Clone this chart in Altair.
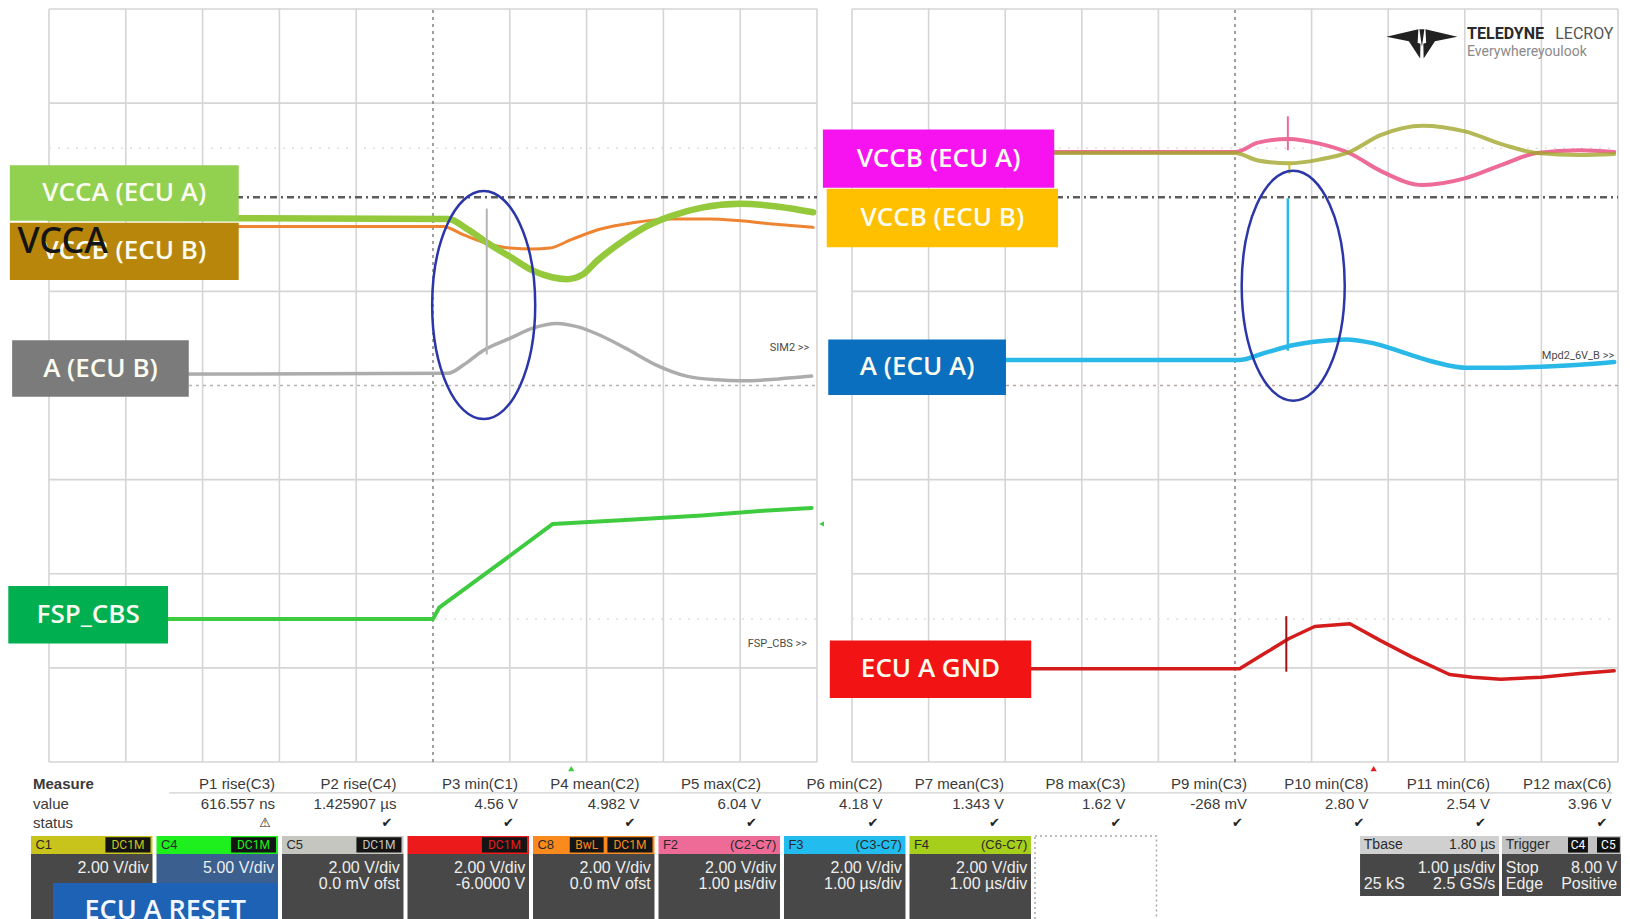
import altair as alt
import pandas as pd

# ================= values =================
# time: microseconds from trigger (1.00 us/div, 10 div); level: screen divisions (8 div)
grid_t = [-5, -4, -3, -2, -1, 1, 2, 3, 4, 5]
grid_v = [-4, -3, -2, -1, 1, 3, 4]

# ---- left screen ----
vcca_a_t = [-5.0, 0.2, 0.45, 0.7, 1.0, 1.3, 1.55, 1.74, 1.95, 2.13, 2.5, 2.8, 3.1, 3.5, 4.0, 4.5, 4.95]
vcca_a_v = [1.78, 1.77, 1.66, 1.52, 1.37, 1.22, 1.15, 1.13, 1.18, 1.32, 1.55, 1.70, 1.80, 1.89, 1.93, 1.90, 1.84]
vccb_b_t = [-5.0, 0.13, 0.4, 0.7, 1.0, 1.3, 1.52, 1.8, 2.17, 2.6, 3.1, 3.6, 4.0, 4.5, 4.95]
vccb_b_v = [1.69, 1.69, 1.60, 1.51, 1.46, 1.45, 1.46, 1.55, 1.66, 1.73, 1.77, 1.77, 1.75, 1.71, 1.68]
a_b_t = [-5.0, 0.2, 0.4, 0.65, 1.0, 1.3, 1.61, 1.9, 2.13, 2.5, 2.9, 3.3, 3.7, 4.0, 4.5, 4.93]
a_b_v = [0.12, 0.13, 0.22, 0.37, 0.50, 0.61, 0.66, 0.62, 0.55, 0.40, 0.22, 0.10, 0.06, 0.05, 0.07, 0.10]
fsp_t = [-5.0, 0.0, 0.08, 0.8, 1.56, 2.5, 3.5, 4.3, 4.93]
fsp_v = [-2.48, -2.48, -2.36, -1.93, -1.47, -1.43, -1.38, -1.33, -1.30]
left_spike_t = [0.70]
left_spike_lo = [0.33]
left_spike_hi = [1.88]

# ---- right screen ----
vccb_a_t = [-5.0, 0.0, 0.3, 0.7, 1.1, 1.49, 1.9, 2.45, 3.0, 3.5, 3.94, 4.5, 4.95]
vccb_a_v = [2.48, 2.48, 2.58, 2.62, 2.57, 2.47, 2.28, 2.13, 2.20, 2.35, 2.47, 2.50, 2.48]
f4_t = [-5.0, 0.0, 0.3, 0.7, 1.1, 1.49, 1.9, 2.45, 3.0, 3.5, 3.94, 4.5, 4.95]
f4_v = [2.47, 2.47, 2.39, 2.36, 2.40, 2.48, 2.66, 2.76, 2.70, 2.56, 2.47, 2.45, 2.46]
a_a_t = [-5.0, 0.05, 0.4, 0.77, 1.1, 1.45, 1.8, 2.2, 2.6, 3.0, 3.5, 4.0, 4.5, 4.95]
a_a_v = [0.27, 0.27, 0.35, 0.43, 0.47, 0.49, 0.45, 0.35, 0.25, 0.19, 0.19, 0.20, 0.22, 0.25]
gnd_t = [-5.0, 0.06, 0.4, 0.7, 1.04, 1.5, 1.9, 2.3, 2.8, 3.1, 3.47, 4.0, 4.5, 4.95]
gnd_v = [-3.01, -3.01, -2.84, -2.69, -2.56, -2.53, -2.71, -2.88, -3.07, -3.10, -3.12, -3.10, -3.06, -3.03]
right_spike_name = ["A (ECU A)", "VCCB (ECU A)", "F4", "ECU A GND"]
right_spike_t = [0.69, 0.69, 0.71, 0.67]
right_spike_lo = [0.37, 2.50, 2.25, -3.04]
right_spike_hi = [1.99, 2.86, 2.38, -2.45]

# trace labels
left_labels = ["VCCA (ECU A)", "VCCB (ECU B)", "A (ECU B)", "FSP_CBS"]
right_labels = ["VCCB (ECU A)", "VCCB (ECU B)", "A (ECU A)", "ECU A GND"]
left_tags = ["SIM2 >>", "FSP_CBS >>"]
right_tags = ["Mpd2_6V_B >>"]

# measurement table
meas_rows = ["Measure", "value", "status"]
meas_names = ["P1 rise(C3)", "P2 rise(C4)", "P3 min(C1)", "P4 mean(C2)", "P5 max(C2)", "P6 min(C2)",
              "P7 mean(C3)", "P8 max(C3)", "P9 min(C3)", "P10 min(C8)", "P11 min(C6)", "P12 max(C6)"]
meas_values = ["616.557 ns", "1.425907 µs", "4.56 V", "4.982 V", "6.04 V", "4.18 V",
               "1.343 V", "1.62 V", "-268 mV", "2.80 V", "2.54 V", "3.96 V"]
meas_status = ["⚠", "✔", "✔", "✔", "✔", "✔", "✔", "✔", "✔", "✔", "✔", "✔"]

# channel descriptors
ch_names = ["C1", "C4", "C5", "C7", "C8", "F2", "F3", "F4"]
ch_source = ["DC1M", "DC1M", "DC1M", "DC1M", "DC1M", "(C2-C7)", "(C3-C7)", "(C6-C7)"]
ch_scale = ["2.00 V/div", "5.00 V/div", "2.00 V/div", "2.00 V/div", "2.00 V/div",
            "2.00 V/div", "2.00 V/div", "2.00 V/div"]
ch_offset = ["", "", "0.0 mV ofst", "-6.0000 V", "0.0 mV ofst", "1.00 µs/div", "1.00 µs/div", "1.00 µs/div"]
tb_title = ["Tbase", "Trigger"]
tb_head = ["1.80 µs", ""]
tb_l1_left = ["", "Stop"]
tb_l1_right = ["1.00 µs/div", "8.00 V"]
tb_l2_left = ["25 kS", "Edge"]
tb_l2_right = ["2.5 GS/s", "Positive"]
trig_src = ["C4", "C5"]

# ================= styles & layout =================
FT = "Liberation Sans, Arial, Helvetica, sans-serif"
FN = "Liberation Sans Narrow, Arial Narrow, Roboto, sans-serif"
FL = "Open Sans, Noto Sans, sans-serif"

left_label_fill = ["#92d050", "#b8860b", "#7b7b7b", "#00b050"]
left_label_box = [(-5.51, -2.53, 1.75, 2.34), (-5.51, -2.53, 1.12, 1.73),
                  (-5.48, -3.18, -0.12, 0.48), (-5.53, -3.45, -2.74, -2.13)]
right_label_fill = ["#f712f0", "#ffc000", "#0a6fbf", "#f21414"]
right_label_box = [(-5.38, -2.36, 2.10, 2.72), (-5.33, -2.31, 1.47, 2.09),
                   (-5.31, -2.99, -0.10, 0.49), (-5.29, -2.66, -3.32, -2.71)]

W, H = 1568, 917
# one plot area holds both screens and the status strip; each gets its own scales
XL = alt.Scale(domain=[-5, 15.4167], nice=False, zero=False)      # left screen time
XR = alt.Scale(domain=[-15.483, 4.987], nice=False, zero=False)   # right screen time
YS = alt.Scale(domain=[-5.742, 4], nice=False, zero=False)        # screen divisions
TXS = alt.Scale(domain=[0.1434, 12.6375], nice=False, zero=False)  # strip slots
TYS = alt.Scale(domain=[-39.231, 7.795], reverse=True, nice=False, zero=False)  # strip rows


def one(**kw):
    return pd.DataFrame({k: [v] for k, v in kw.items()})


def py(f):
    return alt.Y(f, type="quantitative", scale=YS, axis=None)


def tx(f):
    return alt.X(f, type="quantitative", scale=TXS, axis=None)


def ty(f):
    return alt.Y(f, type="quantitative", scale=TYS, axis=None)


def screen(XS, zero_color):
    def px(f):
        return alt.X(f, type="quantitative", scale=XS, axis=None)

    def frame():
        gx = pd.DataFrame({"t": grid_t})
        gx["lo"], gx["hi"] = -4, 4
        gy = pd.DataFrame({"v": grid_v})
        gy["a"], gy["b"] = -5, 5
        out = [
            alt.Chart(gx).mark_rule(color="#d5d5d5", strokeWidth=1.6).encode(x=px("t"), y=py("lo"), y2="hi"),
            alt.Chart(gy).mark_rule(color="#d5d5d5", strokeWidth=1.6).encode(y=py("v"), x=px("a"), x2="b"),
            alt.Chart(one(t=0, lo=-4, hi=4)).mark_rule(color="#888888", strokeWidth=1.6,
                                                       strokeDash=[3, 4]).encode(x=px("t"), y=py("lo"), y2="hi"),
            alt.Chart(one(v=0, a=-5, b=5)).mark_rule(color=zero_color, strokeWidth=1.5,
                                                     strokeDash=[3, 4]).encode(y=py("v"), x=px("a"), x2="b"),
            alt.Chart(pd.DataFrame({"v": [-2.48, 2.52], "a": [-5, -5], "b": [5, 5]})).mark_rule(
                color="#e4dddd", strokeWidth=1.5, strokeDash=[2, 7]).encode(y=py("v"), x=px("a"), x2="b"),
            alt.Chart(one(v=2.0, a=-5, b=5)).mark_rule(color="#5c5c5c", strokeWidth=2.5,
                                                       strokeDash=[7, 4, 2, 4]).encode(y=py("v"), x=px("a"), x2="b"),
        ]
        return out

    def trace(t, v, color, width, interp="monotone", opacity=1.0):
        return alt.Chart(pd.DataFrame({"t": t, "v": v})).mark_line(
            color=color, strokeWidth=width, interpolate=interp, opacity=opacity,
            strokeCap="round", strokeJoin="round").encode(x=px("t"), y=py("v"))

    def spike(t, lo, hi, color, width):
        return alt.Chart(one(t=t, lo=lo, hi=hi)).mark_rule(color=color, strokeWidth=width).encode(
            x=px("t"), y=py("lo"), y2="hi")

    def ellipse(t, v, rx, size):
        path = f"M {-rx} 0 A {rx} 1 0 1 0 {rx} 0 A {rx} 1 0 1 0 {-rx} 0 Z"
        return alt.Chart(one(t=t, v=v)).mark_point(
            shape=path, size=size, filled=False, stroke="#2b36a8", strokeWidth=2.5, opacity=1).encode(
            x=px("t"), y=py("v"))

    def labels(texts, fills, boxes, text_color="#fbfbef"):
        out = []
        for txt, col, (t0, t1, v0, v1) in zip(texts, fills, boxes):
            d = one(text=txt, t0=t0, t1=t1, v0=v0, v1=v1, tc=(t0 + t1) / 2, vc=(v0 + v1) / 2)
            out.append(alt.Chart(d).mark_rect(color=col).encode(x=px("t0"), x2="t1", y=py("v0"), y2="v1"))
            out.append(alt.Chart(d).mark_text(font=FL, fontSize=26, fontWeight=600, color=text_color,
                                              baseline="middle", align="center").encode(
                x=px("tc"), y=py("vc"), text="text"))
        return out

    def text(txt, t, v, **kw):
        return alt.Chart(one(text=txt, t=t, v=v)).mark_text(**kw).encode(
            x=px("t"), y=py("v"), text="text")

    def marker(t, v, shape, color, size):
        return alt.Chart(one(t=t, v=v)).mark_point(shape=shape, filled=True, color=color,
                                                   size=size, opacity=1).encode(x=px("t"), y=py("v"))

    return frame, trace, spike, ellipse, labels, text, marker


TAG = dict(font=FN, fontSize=11, color="#4a4a4a", align="right", baseline="middle")

# ---------------- left screen ----------------
frame, trace, spike, ellipse, labels, text, marker = screen(XL, "#b4b4b4")
layers = frame()
layers += [
    trace(vccb_b_t, vccb_b_v, "#ee8432", 3),
    trace(vcca_a_t, vcca_a_v, "#93c93b", 6.5),
    trace(a_b_t, a_b_v, "#acacac", 3.5),
    trace(fsp_t, fsp_v, "#3fcb3f", 4, "linear"),
    spike(left_spike_t[0], left_spike_lo[0], left_spike_hi[0], "#b4b4b4", 2),
    ellipse(0.66, 0.855, 0.452, 51984),
]
layers += labels(left_labels, left_label_fill, left_label_box)
layers += [
    text("VCCA", -5.41, 1.52, font="Noto Sans, DejaVu Sans, sans-serif", fontSize=36, fontWeight=500,
         color="#141414", align="left", baseline="middle"),
    text(left_tags[0], 4.9, 0.40, **TAG),
    text(left_tags[1], 4.87, -2.75, **TAG),
    marker(1.8, -4.07, "triangle-up", "#3fcb3f", 40),
    marker(5.06, -1.47, "triangle-left", "#3fcb3f", 30),
]

# ---------------- right screen ----------------
logo_path = ("M -1 -0.2 L -0.1 -0.41 L -0.12 -0.02 Z "
             "M 1 -0.2 L 0.1 -0.41 L 0.12 -0.02 Z "
             "M -0.07 -0.41 L 0.07 -0.41 L 0 0.08 Z "
             "M -0.4 -0.12 L -0.04 0.0 L -0.05 0.41 Z "
             "M 0.4 -0.12 L 0.04 0.0 L 0.05 0.41 Z")
frame, trace, spike, ellipse, labels, text, marker = screen(XR, "#bca6a6")
layers += frame()
layers += [
    trace(vccb_a_t, vccb_a_v, "#ef6b97", 4),
    trace(f4_t, f4_v, "#a3a62c", 4, "monotone", 0.8),
    trace(a_a_t, a_a_v, "#2ab8e8", 4.5),
    trace(gnd_t, gnd_v, "#d41c1c", 3.5, "linear"),
    spike(right_spike_t[0], right_spike_lo[0], right_spike_hi[0], "#2ab8e8", 2.5),
    spike(right_spike_t[1], right_spike_lo[1], right_spike_hi[1], "#ef6b97", 2),
    spike(right_spike_t[2], right_spike_lo[2], right_spike_hi[2], "#c8c030", 2),
    spike(right_spike_t[3], right_spike_lo[3], right_spike_hi[3], "#a01010", 2),
    ellipse(0.76, 1.06, 0.448, 52900),
]
layers += labels(right_labels, right_label_fill, right_label_box)
layers += [
    text(right_tags[0], 4.95, 0.31, **TAG),
    marker(1.81, -4.07, "triangle-up", "#e02020", 40),
    marker(2.44, 3.63, logo_path, "#222222", 5041),
    text("TELEDYNE", 3.03, 3.68, font=FN, fontSize=16, fontWeight="bold", color="#2a2a2a",
         align="left", baseline="alphabetic"),
    text("LECROY", 4.18, 3.68, font=FN, fontSize=16, color="#555555", align="left", baseline="alphabetic"),
    text("Everywhereyoulook", 3.03, 3.50, font=FN, fontSize=14, color="#8a8a8a",
         align="left", baseline="alphabetic"),
]

# ---------------- measurement / descriptor strip ----------------
R_NAME, R_VAL, R_STAT, R_SEP = 0.51, 1.54, 2.51, 0.97
H0, H1, HC, L1, L2, B1 = 3.18, 4.10, 3.64, 4.82, 5.64, 7.795

m = pd.DataFrame({"name": meas_names, "value": meas_values, "status": meas_status})
m["j"] = 1.944 + m.index * 0.9681
m["rn"], m["rv"], m["rs"] = R_NAME, R_VAL, R_STAT

rows = pd.DataFrame({"row": meas_rows, "r": [R_NAME, R_VAL, R_STAT]})
rows["j"] = 0.016

ch = pd.DataFrame({"name": ch_names, "src": ch_source, "scale": ch_scale, "ofs": ch_offset})
ch["j0"] = ch.index.astype(float)
ch["j1"] = ch["j0"] + 0.968
ch["jn"] = ch["j0"] + 0.035
ch["jr"] = ch["j1"] - 0.03
ch["bj0"] = ch["j1"] - 0.375
ch["bj1"] = ch["j1"] - 0.016
ch["bjc"] = (ch["bj0"] + ch["bj1"]) / 2
ch["h0"], ch["h1"], ch["hc"], ch["b1"], ch["l1"], ch["l2"] = H0, H1, HC, B1, L1, L2
ch["bh0"], ch["bh1"] = H0 + 0.07, H1 - 0.07

ch_header_colors = ["#c9c41c", "#1ef01e", "#c6c6c0", "#ec1a1a", "#fa8a1e", "#ef6b97", "#22bdee", "#a6cf1c"]
ch_body_colors = ["#484848", "#3b5f8f", "#484848", "#484848", "#484848", "#484848", "#484848", "#484848"]
hdr_color = alt.Color("name:N", scale=alt.Scale(domain=ch_names, range=ch_header_colors), legend=None)
body_fill = alt.Fill("name:N", scale=alt.Scale(domain=ch_names, range=ch_body_colors), legend=None)

tb = pd.DataFrame({"title": tb_title, "head": tb_head, "l1l": tb_l1_left, "l1r": tb_l1_right,
                   "l2l": tb_l2_left, "l2r": tb_l2_right})
tb["j0"] = [10.590, 11.721]
tb["j1"] = [11.698, 12.669]
tb["jn"] = tb["j0"] + 0.03
tb["jr"] = tb["j1"] - 0.03
tb["h0"], tb["h1"], tb["hc"], tb["b1"], tb["l1"], tb["l2"] = H0, H1, HC, 6.26, L1, L2

trg = pd.DataFrame({"src": trig_src})
trg["j0"] = [12.247, 12.478]
trg["j1"] = [12.406, 12.66]
trg["jc"] = (trg["j0"] + trg["j1"]) / 2
trg["h0"], trg["h1"], trg["hc"] = H0 + 0.07, H1 - 0.07, HC

TXT = dict(font=FT, fontSize=15, baseline="middle", color="#3a3a3a")
LINE = dict(font=FT, fontSize=16, baseline="middle", color="#eeeeee")
layers += [
    alt.Chart(one(j0=1.1, j1=12.6, r=R_SEP)).mark_rule(color="#c4c4c4", strokeWidth=1).encode(
        x=tx("j0"), x2="j1", y=ty("r")),
    alt.Chart(rows).transform_filter("datum.row == 'Measure'").mark_text(
        fontWeight="bold", align="left", **TXT).encode(x=tx("j"), y=ty("r"), text="row"),
    alt.Chart(rows).transform_filter("datum.row != 'Measure'").mark_text(
        align="left", **TXT).encode(x=tx("j"), y=ty("r"), text="row"),
    alt.Chart(m).mark_text(align="right", **TXT).encode(x=tx("j"), y=ty("rn"), text="name"),
    alt.Chart(m).mark_text(align="right", **TXT).encode(x=tx("j"), y=ty("rv"), text="value"),
    alt.Chart(m).mark_text(font="DejaVu Sans, sans-serif", fontSize=13, align="right", baseline="middle",
                           color="#222222", dx=-4).encode(x=tx("j"), y=ty("rs"), text="status"),
    # channel descriptor boxes
    alt.Chart(ch).mark_rect().encode(x=tx("j0"), x2="j1", y=ty("h1"), y2="b1", fill=body_fill),
    alt.Chart(ch).mark_rect().encode(x=tx("j0"), x2="j1", y=ty("h0"), y2="h1", color=hdr_color),
    alt.Chart(ch).transform_filter("datum.name != 'C7'").mark_text(
        font=FT, fontSize=13, align="left", baseline="middle", color="#2a2a2a").encode(
        x=tx("jn"), y=ty("hc"), text="name"),
    alt.Chart(ch).transform_filter("datum.src == 'DC1M'").mark_rect(color="#141414").encode(
        x=tx("bj0"), x2="bj1", y=ty("bh0"), y2="bh1"),
    alt.Chart(ch).transform_filter("datum.src == 'DC1M'").mark_text(
        font=FN, fontSize=12, align="center", baseline="middle").encode(
        x=tx("bjc"), y=ty("hc"), text="src", color=hdr_color),
    alt.Chart(ch).transform_filter("datum.name == 'C8'").transform_calculate(
        a="datum.bj0 - 0.3", b="datum.bj0 - 0.03").mark_rect(
        color="#141414").encode(x=tx("a:Q"), x2="b:Q", y=ty("bh0"), y2="bh1"),
    alt.Chart(ch).transform_filter("datum.name == 'C8'").transform_calculate(
        c="datum.bj0 - 0.165", t="'BwL'").mark_text(
        font=FN, fontSize=12, align="center", baseline="middle").encode(
        x=tx("c:Q"), y=ty("hc"), text="t:N", color=hdr_color),
    alt.Chart(ch).transform_filter("datum.src != 'DC1M'").mark_text(
        font=FT, fontSize=13, align="right", baseline="middle", color="#2a2a2a").encode(
        x=tx("jr"), y=ty("hc"), text="src"),
    alt.Chart(ch).mark_text(align="right", **LINE).encode(x=tx("jr"), y=ty("l1"), text="scale"),
    alt.Chart(ch).mark_text(align="right", **LINE).encode(x=tx("jr"), y=ty("l2"), text="ofs"),
    # empty slot
    alt.Chart(one(j0=8.0, j1=8.968, h0=H0, b1=B1)).mark_rect(
        fillOpacity=0, stroke="#a8a8a8", strokeDash=[2, 3], strokeWidth=1.5).encode(
        x=tx("j0"), x2="j1", y=ty("h0"), y2="b1"),
    # timebase / trigger
    alt.Chart(tb).mark_rect(color="#474747").encode(x=tx("j0"), x2="j1", y=ty("h1"), y2="b1"),
    alt.Chart(tb).transform_filter("datum.title == 'Tbase'").mark_rect(color="#d0d0d0").encode(
        x=tx("j0"), x2="j1", y=ty("h0"), y2="h1"),
    alt.Chart(tb).transform_filter("datum.title == 'Trigger'").mark_rect(color="#c2c2c2").encode(
        x=tx("j0"), x2="j1", y=ty("h0"), y2="h1"),
    alt.Chart(tb).mark_text(font=FT, fontSize=14, align="left", baseline="middle", color="#2a2a2a").encode(
        x=tx("jn"), y=ty("hc"), text="title"),
    alt.Chart(tb).mark_text(font=FT, fontSize=14, align="right", baseline="middle", color="#2a2a2a").encode(
        x=tx("jr"), y=ty("hc"), text="head"),
    alt.Chart(trg).mark_rect(color="#111111").encode(x=tx("j0"), x2="j1", y=ty("h0"), y2="h1"),
    alt.Chart(trg).mark_text(font=FN, fontSize=12, align="center", baseline="middle", color="#ffffff").encode(
        x=tx("jc"), y=ty("hc"), text="src"),
    alt.Chart(tb).mark_text(align="left", **LINE).encode(x=tx("jn"), y=ty("l1"), text="l1l"),
    alt.Chart(tb).mark_text(align="right", **LINE).encode(x=tx("jr"), y=ty("l1"), text="l1r"),
    alt.Chart(tb).mark_text(align="left", **LINE).encode(x=tx("jn"), y=ty("l2"), text="l2l"),
    alt.Chart(tb).mark_text(align="right", **LINE).encode(x=tx("jr"), y=ty("l2"), text="l2r"),
    # ECU A RESET label
    alt.Chart(one(j0=0.175, j1=1.96, r0=5.59, r1=B1)).mark_rect(color="#1d62b5").encode(
        x=tx("j0"), x2="j1", y=ty("r0"), y2="r1"),
    alt.Chart(one(text="ECU A RESET", j=1.07, r=7.44)).mark_text(
        font=FL, fontSize=27, fontWeight=600, color="#f4f8ff", align="center",
        baseline="alphabetic").encode(x=tx("j"), y=ty("r"), text="text"),
]

chart = alt.layer(*layers).resolve_scale(x="independent", y="independent").properties(
    width=W, height=H, padding=0, background="#ffffff").configure_view(strokeWidth=0)

chart.save("out.html", embed_options={"renderer": "svg", "actions": False})
